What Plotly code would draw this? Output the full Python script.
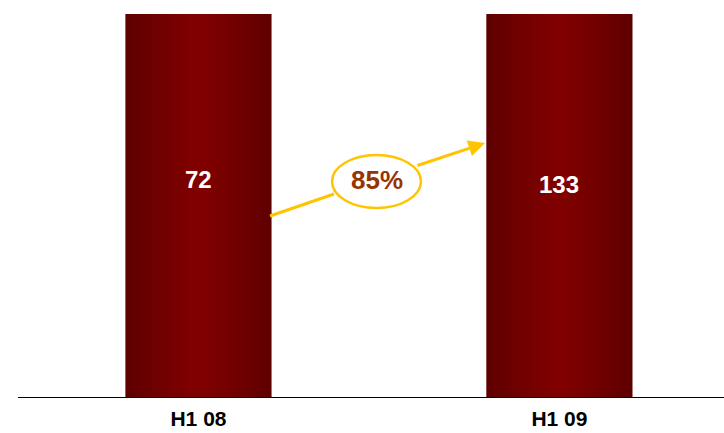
import plotly.graph_objects as go

# Half-year values and labels
periods = ["H1 08", "H1 09"]
values = [72, 133]
growth_label = "85%"

W, H = 724, 433
M_L, M_R, M_T, M_B = 18, 0, 14, 36
X_RANGE = [-0.5, 1.456]
Y_TOP = 68  # axis is cut below both bars, so they run off the top


def px_to_x(px):
    span = W - M_L - M_R
    return X_RANGE[0] + (px - M_L) / span * (X_RANGE[1] - X_RANGE[0])


def py_to_paper(py):
    return (H - M_B - py) / (H - M_T - M_B)


def lerp_color(c1, c2, t):
    r = round(c1[0] + (c2[0] - c1[0]) * t)
    g = round(c1[1] + (c2[1] - c1[1]) * t)
    b = round(c1[2] + (c2[2] - c1[2]) * t)
    return f"rgb({r},{g},{b})"


fig = go.Figure()

# Horizontal shading of the bars: overlaid bars narrowing toward the centre
edge = (94, 0, 0)
centre = (128, 0, 0)
full_w = 0.405
layers = 14
for i in range(layers):
    t = i / (layers - 1)
    w = full_w * (1 - 0.92 * t)
    fig.add_trace(go.Bar(
        x=periods, y=values, width=w,
        marker=dict(color=lerp_color(edge, centre, t ** 0.8), line=dict(width=0)),
        hoverinfo="skip", showlegend=False,
    ))

# Value labels inside the bars
label_py = [180, 184]
for p, v, py in zip(periods, values, label_py):
    fig.add_annotation(x=p, y=py_to_paper(py), xref="x", yref="paper",
                       text=f"<b>{v}</b>", showarrow=False,
                       font=dict(family="Liberation Sans", size=24, color="white"))

gold = "#FFC400"
# Growth arrow: tail segment up to the ellipse, then arrow out to the second bar
fig.add_shape(type="line", xref="x", yref="paper",
              x0=px_to_x(270), y0=py_to_paper(216),
              x1=px_to_x(334), y1=py_to_paper(194),
              line=dict(color=gold, width=3))
fig.add_annotation(x=px_to_x(485), y=py_to_paper(143), xref="x", yref="paper",
                   ax=416 - 485, ay=166 - 143, axref="pixel", ayref="pixel",
                   text="", showarrow=True, arrowhead=2, arrowsize=1.1,
                   arrowwidth=3, arrowcolor=gold, standoff=0)
fig.add_shape(type="circle", xref="x", yref="paper",
              x0=px_to_x(332), x1=px_to_x(421),
              y0=py_to_paper(208), y1=py_to_paper(155),
              fillcolor="white", line=dict(color=gold, width=2.5))
fig.add_annotation(x=px_to_x(376.5), y=py_to_paper(180), xref="x", yref="paper",
                   text=f"<b>{growth_label}</b>", showarrow=False,
                   font=dict(family="Liberation Sans", size=26, color="#993300"))

fig.update_layout(
    width=W, height=H,
    margin=dict(l=M_L, r=M_R, t=M_T, b=M_B, pad=0),
    barmode="overlay",
    plot_bgcolor="white", paper_bgcolor="white",
    showlegend=False,
    xaxis=dict(range=X_RANGE, showgrid=False, zeroline=False, automargin=False,
               showline=True, linecolor="black", linewidth=1,
               ticks="", ticklabelstandoff=3,
               tickfont=dict(family="Liberation Sans", size=21, color="black"),
               tickvals=periods, ticktext=[f"<b>{p}</b>" for p in periods]),
    yaxis=dict(range=[0, Y_TOP], visible=False, showgrid=False, zeroline=False,
               automargin=False),
)

fig.write_html("out.html")
